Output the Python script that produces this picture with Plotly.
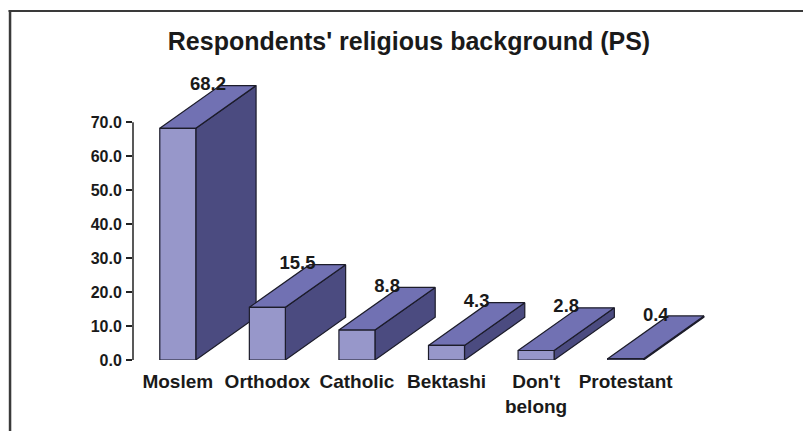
import plotly.graph_objects as go

# ---- data ----
categories = ["Moslem", "Orthodox", "Catholic", "Bektashi", "Don't<br>belong", "Protestant"]
values = [68.2, 15.5, 8.8, 4.3, 2.8, 0.4]
tick_values = [0, 10, 20, 30, 40, 50, 60, 70]
tick_labels = ["0.0", "10.0", "20.0", "30.0", "40.0", "50.0", "60.0", "70.0"]
title_text = "Respondents' religious background (PS)"

# ---- geometry / style ----
W, H = 803, 431
ML, MR, MT, MB = 132.5, 43.3, 60, 71
XR = [-0.5, 6.5]
px_per_y = 237.8 / 70.0
plot_h = H - MT - MB
YR = [0, plot_h / px_per_y]

half_w = 0.201          # half width of bar front (category units)
depth_x = 0.673         # depth offset in x units
depth_y = 12.57         # depth offset in y units

FRONT = "#9797CA"
TOP = "#7171B3"
SIDE = "#4B4B80"
EDGE = "#1c1c2a"
TXT = "#1a1a1a"
FONT = "Liberation Sans, Arial, sans-serif"

fig = go.Figure()

for i, v in enumerate(values):
    xl, xr = i - half_w, i + half_w
    # side face
    fig.add_trace(go.Scatter(
        x=[xr, xr, xr + depth_x, xr + depth_x, xr],
        y=[0, v, v + depth_y, depth_y, 0],
        mode="lines", fill="toself", fillcolor=SIDE,
        line=dict(color=EDGE, width=1.2), hoverinfo="skip", showlegend=False))
    # top face
    fig.add_trace(go.Scatter(
        x=[xl, xr, xr + depth_x, xl + depth_x, xl],
        y=[v, v, v + depth_y, v + depth_y, v],
        mode="lines", fill="toself", fillcolor=TOP,
        line=dict(color=EDGE, width=1.2), hoverinfo="skip", showlegend=False))
    # front face
    fig.add_trace(go.Scatter(
        x=[xl, xr, xr, xl, xl],
        y=[0, 0, v, v, 0],
        mode="lines", fill="toself", fillcolor=FRONT,
        line=dict(color=EDGE, width=1.2), hoverinfo="skip", showlegend=False))

# value labels
fig.add_trace(go.Scatter(
    x=[i + depth_x / 2 for i in range(len(values))],
    y=[v + depth_y for v in values],
    mode="text", text=[f"{v:.1f}" for v in values],
    textposition="middle center",
    textfont=dict(family=FONT, size=18.5, color=TXT, weight="bold"),
    hoverinfo="skip", showlegend=False, cliponaxis=False))

plot_w = W - ML - MR


def px_to_paper_x(px):
    return (px - ML) / plot_w


def px_to_paper_y(py):
    return (H - MB - py) / plot_h


shapes = [
    # y axis line from 0 to 70
    dict(type="line", xref="paper", yref="y", x0=0, x1=0, y0=tick_values[0], y1=tick_values[-1],
         line=dict(color="#222222", width=1.5)),
    # outer frame (top and left)
    dict(type="line", xref="paper", yref="paper",
         x0=px_to_paper_x(8), x1=px_to_paper_x(810),
         y0=px_to_paper_y(11), y1=px_to_paper_y(11),
         line=dict(color="#3a3a3a", width=2)),
    dict(type="line", xref="paper", yref="paper",
         x0=px_to_paper_x(9.5), x1=px_to_paper_x(9.5),
         y0=px_to_paper_y(10), y1=px_to_paper_y(440),
         line=dict(color="#3a3a3a", width=2.5)),
]

fig.update_layout(
    width=W, height=H,
    margin=dict(l=ML, r=MR, t=MT, b=MB, pad=0),
    paper_bgcolor="white", plot_bgcolor="white",
    showlegend=False,
    title=dict(text=title_text, x=409 / W, xref="container", xanchor="center",
               y=1 - 41 / H, yref="container", yanchor="middle",
               font=dict(family=FONT, size=25, color=TXT, weight="bold")),
    shapes=shapes,
    xaxis=dict(range=XR, tickvals=list(range(len(categories))), ticktext=categories,
               showgrid=False, zeroline=False, showline=False, ticks="",
               ticklabelstandoff=8,
               tickfont=dict(family=FONT, size=19, color=TXT, weight="bold"),
               fixedrange=True),
    yaxis=dict(range=YR, tickvals=tick_values, ticktext=tick_labels,
               showgrid=False, zeroline=False, showline=False,
               ticks="outside", ticklen=6, tickwidth=1.5, tickcolor="#222222",
               ticklabelstandoff=1,
               tickfont=dict(family=FONT, size=16, color=TXT, weight="bold"),
               fixedrange=True),
)

fig.write_html("out.html")
